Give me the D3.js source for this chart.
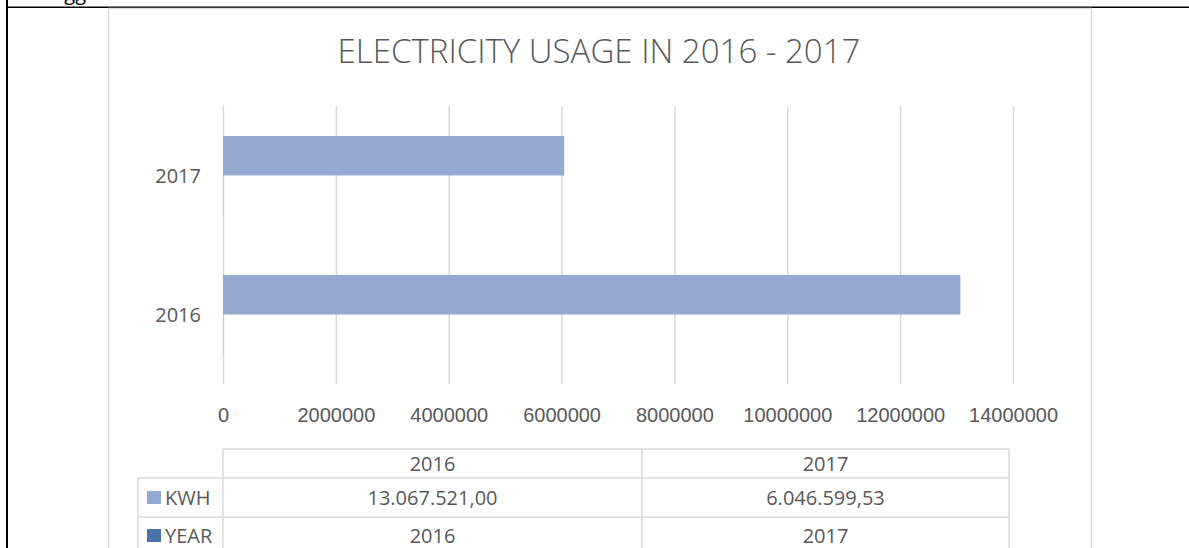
<!DOCTYPE html>
<html>
<head>
<meta charset="utf-8">
<script src="https://cdn.jsdelivr.net/npm/d3@7"></script>
<style>
  body { margin: 0; background: #fff; }
  svg { display: block; font-family: "Open Sans", sans-serif; }
  .ejes text { fill: #595959; font-size: 20px; }
  .ejes line { stroke: #d9d9d9; stroke-width: 1.5; }
  .ejes .domain { display: none; }
  .celda { fill: #595959; font-size: 20px; }
</style>
</head>
<body>
<div id="graf"></div>
<script>
// datos
const categorias = ["2016", "2017"]
const series = ["KWH", "YEAR"]
const kwh = [13067521.00, 6046599.53]
const anio = [2016, 2017]
const xTicks = [0, 2000000, 4000000, 6000000, 8000000, 10000000, 12000000, 14000000]
const colores = ["#95a9d1", "#4a71a8"]

const anchoTotal = 1189
const altoTotal = 548

const svg = d3.select("#graf")
  .append("svg")
  .attr("width", anchoTotal)
  .attr("height", altoTotal)

// marco del documento
svg.append("text")
  .attr("x", 86)
  .attr("y", 0)
  .attr("text-anchor", "end")
  .attr("font-size", 20)
  .attr("fill", "#000")
  .text("ogg")

svg.append("line")
  .attr("x1", 6).attr("x2", anchoTotal)
  .attr("y1", 7.3).attr("y2", 7.3)
  .attr("stroke", "#000").attr("stroke-width", 1.6)
svg.append("line")
  .attr("x1", 7).attr("x2", 7)
  .attr("y1", 0).attr("y2", altoTotal)
  .attr("stroke", "#000").attr("stroke-width", 2)

// area del grafico
svg.append("rect")
  .attr("x", 108.5).attr("y", 8.5)
  .attr("width", 983).attr("height", 600)
  .attr("fill", "#fff")
  .attr("stroke", "#d9d9d9").attr("stroke-width", 1.5)

const titulo = svg.append("text")
  .attr("x", 599)
  .attr("y", 63)
  .attr("text-anchor", "middle")
  .attr("fill", "#595959")
  .attr("font-weight", 300)
  .attr("font-size", 30)
  .text("ELECTRICITY USAGE IN 2016 - 2017")
const w = titulo.node().getComputedTextLength()
titulo.attr("font-size", 30 * 523 / w)

const plot = { left: 223, right: 1013, top: 106, bottom: 384 }

const x = d3.scaleLinear().domain([0, 14000000]).range([plot.left, plot.right])
const y = d3.scaleBand().domain(categorias.slice().reverse()).range([plot.top, plot.bottom])
const ySub = d3.scaleBand().domain(series).range([0, y.bandwidth()]).paddingOuter(0.76)

const xAxis = d3.axisBottom(x)
  .tickValues(xTicks)
  .tickFormat(d3.format("d"))
  .tickSize(-(plot.bottom - plot.top))
  .tickPadding(24)

svg.append("g")
  .attr("class", "ejes")
  .attr("transform", `translate(0, ${plot.bottom})`)
  .call(xAxis)

svg.append("g")
  .selectAll("text")
  .data(categorias)
  .join("text")
  .attr("class", "celda")
  .attr("x", 201)
  .attr("y", (d) => y(d) + y.bandwidth() / 2)
  .attr("dy", "0.35em")
  .attr("text-anchor", "end")
  .text((d) => d)

const filas = [kwh, anio]

const barras = svg.append("g")
filas.forEach((vals, s) => {
  barras.selectAll(".b" + s)
    .data(categorias.map((c, i) => ({ c, v: vals[i] })))
    .join("rect")
    .attr("class", "b" + s)
    .attr("x", x(0))
    .attr("y", (d) => y(d.c) + ySub(series[s]))
    .attr("width", (d) => x(d.v) - x(0))
    .attr("height", ySub.bandwidth())
    .attr("fill", colores[s])
})

// tabla de datos
const formato = d3.formatLocale({ decimal: ",", thousands: ".", grouping: [3], currency: ["", ""] })
const fmtKwh = formato.format(",.2f")

const colX = [223, 642, 1009]
const filaY = [449, 478, 517, 556]
const leyX = 138
const gris = "#d9d9d9"

const tabla = svg.append("g")
// lineas horizontales
tabla.append("line")
  .attr("x1", colX[0]).attr("x2", colX[2])
  .attr("y1", filaY[0]).attr("y2", filaY[0])
  .attr("stroke", gris).attr("stroke-width", 1.5)
filaY.slice(1).forEach((yy) => {
  tabla.append("line")
    .attr("x1", leyX).attr("x2", colX[2])
    .attr("y1", yy).attr("y2", yy)
    .attr("stroke", gris).attr("stroke-width", 1.5)
})
// lineas verticales
colX.forEach((xx) => {
  tabla.append("line")
    .attr("x1", xx).attr("x2", xx)
    .attr("y1", filaY[0]).attr("y2", filaY[3])
    .attr("stroke", gris).attr("stroke-width", 1.5)
})
tabla.append("line")
  .attr("x1", leyX).attr("x2", leyX)
  .attr("y1", filaY[1]).attr("y2", filaY[3])
  .attr("stroke", gris).attr("stroke-width", 1.5)

const centroCol = (i) => (colX[i] + colX[i + 1]) / 2

tabla.selectAll(".enc")
  .data(categorias)
  .join("text")
  .attr("class", "celda enc")
  .attr("x", (d, i) => centroCol(i))
  .attr("y", 464)
  .attr("dy", "0.35em")
  .attr("text-anchor", "middle")
  .text((d) => d)

const textos = [kwh.map(fmtKwh), anio.map(String)]
const centroFila = [498, 536]

series.forEach((s, r) => {
  tabla.append("rect")
    .attr("x", 147).attr("y", centroFila[r] - 7)
    .attr("width", 14).attr("height", 13)
    .attr("fill", colores[r])
  tabla.append("text")
    .attr("class", "celda")
    .attr("x", 165)
    .attr("y", centroFila[r])
    .attr("dy", "0.35em")
    .text(s)
  tabla.selectAll(".v" + r)
    .data(textos[r])
    .join("text")
    .attr("class", "celda v" + r)
    .attr("x", (d, i) => centroCol(i))
    .attr("y", centroFila[r])
    .attr("dy", "0.35em")
    .attr("text-anchor", "middle")
    .text((d) => d)
})
</script>
</body>
</html>
